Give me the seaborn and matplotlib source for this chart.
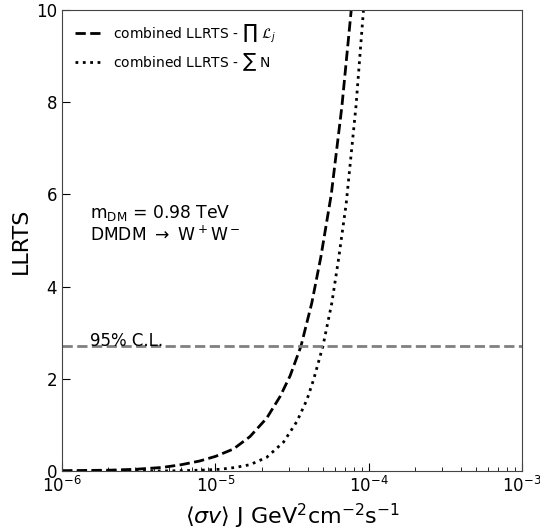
import pandas as pd
import matplotlib
matplotlib.use("Agg")
import matplotlib.pyplot as plt
import seaborn as sns

# values
sigma_prod = [1e-6, 2e-6, 3e-6, 4.5e-6, 6e-6, 7.9e-6, 1e-5, 1.31e-5, 1.68e-5, 2.16e-5,
              2.64e-5, 3.07e-5, 3.61e-5, 4.25e-5, 4.87e-5, 5.69e-5, 6.67e-5, 7.68e-5, 8.2e-5]
llrts_prod = [0.01, 0.02, 0.04, 0.08, 0.14, 0.22, 0.32, 0.48, 0.75, 1.15,
              1.62, 2.07, 2.71, 3.65, 4.65, 6.0, 7.9, 10.0, 11.2]

sigma_sum = [1e-6, 5e-6, 8e-6, 1.07e-5, 1.35e-5, 1.68e-5, 2.16e-5, 2.78e-5, 3.4e-5,
             3.95e-5, 4.36e-5, 5.02e-5, 5.74e-5, 6.35e-5, 7.12e-5, 8.24e-5, 9.23e-5, 9.8e-5]
llrts_sum = [0.0, 0.005, 0.02, 0.04, 0.08, 0.14, 0.3, 0.63, 1.08,
             1.55, 1.98, 2.71, 3.65, 4.6, 5.8, 7.9, 10.0, 11.2]

cl_95 = 2.71
labels = [r"combined LLRTS - $\prod\ \mathcal{L}_j$", r"combined LLRTS - $\sum$ N"]

df_prod = pd.DataFrame({"sigma": sigma_prod, "llrts": llrts_prod})
df_sum = pd.DataFrame({"sigma": sigma_sum, "llrts": llrts_sum})

sns.set_style("ticks")
plt.rcParams["font.family"] = ["DejaVu Sans"]
plt.rcParams["text.color"] = "black"
plt.rcParams["axes.labelcolor"] = "black"
plt.rcParams["xtick.color"] = "black"
plt.rcParams["ytick.color"] = "black"
plt.rcParams["axes.edgecolor"] = "#444444"

fig = plt.figure(figsize=(5.4, 5.27), dpi=100)
ax = fig.add_axes([0.115, 0.106, 0.852, 0.875])

sns.lineplot(data=df_prod, x="sigma", y="llrts", ax=ax, color="black",
             lw=2, linestyle="--", label=labels[0])
sns.lineplot(data=df_sum, x="sigma", y="llrts", ax=ax, color="black",
             lw=2, linestyle=":", label=labels[1])
ax.axhline(cl_95, color="gray", lw=2, linestyle="--")

ax.set_xscale("log")
ax.set_xlim(1e-6, 1e-3)
ax.set_ylim(0, 10)
ax.set_yticks([0, 2, 4, 6, 8, 10])

ax.text(1.52e-6, cl_95, "95% C.L.", fontsize=12, va="baseline")
ax.text(1.52e-6, 5.36, "m$_{\\rm DM}$ = 0.98 TeV\nDMDM $\\rightarrow$ W$^+$W$^-$",
        fontsize=12.3, va="center")

ax.set_xlabel(r"$\langle\sigma v\rangle$ J GeV$^2$cm$^{-2}$s$^{-1}$", fontsize=16)
ax.set_ylabel("LLRTS", fontsize=16)
ax.tick_params(which="both", direction="in", labelsize=12)
ax.tick_params(which="major", length=6)
ax.tick_params(which="minor", length=3)

ax.legend(loc="upper left", frameon=False, fontsize=10, handlelength=2)

fig.savefig("out.png", dpi=100)
